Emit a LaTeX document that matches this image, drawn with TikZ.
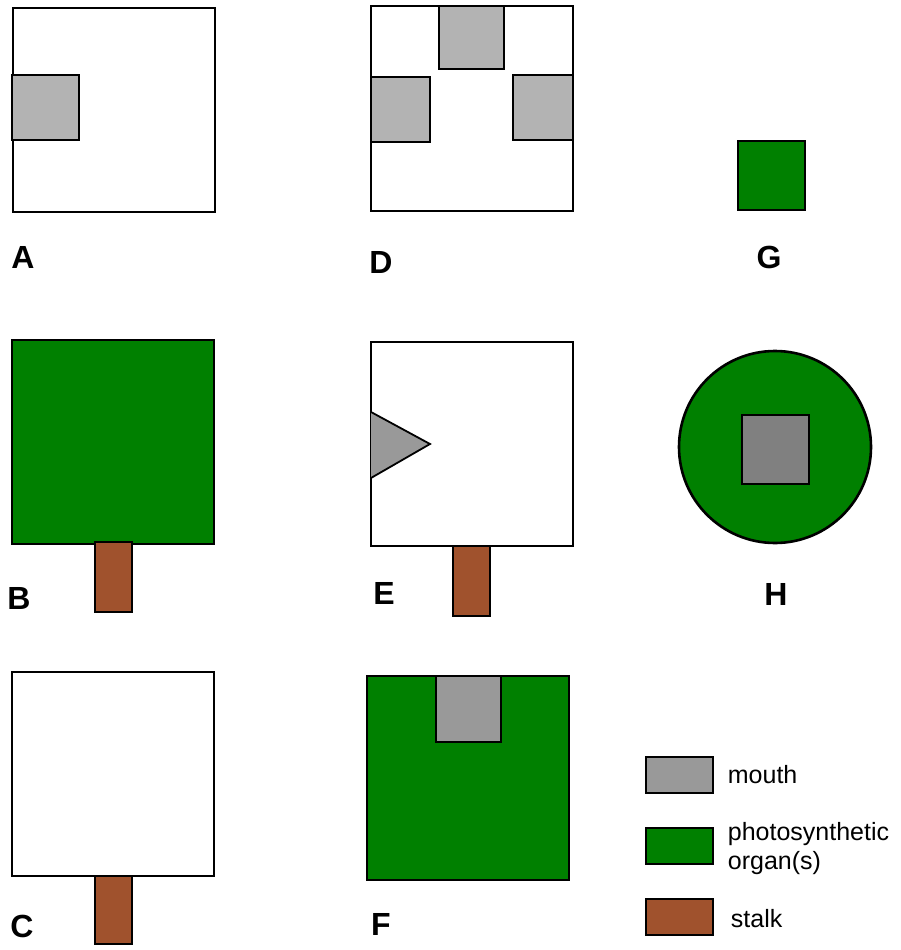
\documentclass[tikz,border=0pt]{standalone}
\usepackage{fontspec}
\setmainfont{Liberation Sans}
\definecolor{organgreen}{HTML}{008000}
\definecolor{stalkbrown}{HTML}{A0522D}
\definecolor{mouthgray}{HTML}{999999}
\definecolor{lightmouth}{HTML}{B3B3B3}
\definecolor{darkmouth}{HTML}{808080}
\begin{document}
\begin{tikzpicture}[x=1pt,y=-1pt,line width=1.8pt,
  body/.style={draw=black, fill=white},
  organ/.style={draw=black, fill=organgreen},
  stalk/.style={draw=black, fill=stalkbrown},
  mouth/.style={draw=black, fill=mouthgray},
  pale/.style={draw=black, fill=lightmouth},
  tag/.style={inner sep=0pt, font=\fontsize{32}{36}\selectfont\bfseries},
  legtext/.style={inner sep=0pt, anchor=base west, align=left, font=\fontsize{25}{29}\selectfont}]
\useasboundingbox (0,0) rectangle (901,950);

\draw[body] (13,8) rectangle (215,212);
\draw[pale] (12,75) rectangle (79,140);
\node[tag] (la) at (23,257) {A};

\draw[organ] (12,340) rectangle (214,544);
\draw[stalk] (95,542) rectangle (132,612);
\node[tag] (lb) at (19,598) {B};

\draw[body] (12,672) rectangle (214,876);
\draw[stalk] (95,876) rectangle (132,944);
\node[tag] (lc) at (22,926) {C};

\draw[body] (371,6) rectangle (573,211);
\draw[pale] (439,6) rectangle (504,69);
\draw[pale] (371,77) rectangle (430,142);
\draw[pale] (513,75) rectangle (573,140);
\node[tag] (ld) at (381,262) {D};

\draw[body] (371,342) rectangle (573,546);
\fill[mouthgray] (371,412) -- (430,444) -- (371,478) -- cycle;
\draw (371,412) -- (430,444) -- (371,478);
\draw[stalk] (453,546) rectangle (490,616);
\node[tag] (le) at (384,593) {E};

\draw[organ] (367,676) rectangle (569,880);
\draw[mouth] (436,676) rectangle (501,742);
\node[tag] (lf) at (381,924) {F};

\draw[organ] (738,141) rectangle (805,210);
\node[tag] (lg) at (769,257) {G};

\draw[organ, line width=2.6pt] (775,447) circle (96pt);
\draw[draw=black, fill=darkmouth] (742,415) rectangle (809,484);
\node[tag] (lh) at (776,594) {H};

\draw[mouth] (646,757) rectangle (713,793);
\node[legtext] (kmouth) at (727,783) {mouth};
\draw[organ] (646,828) rectangle (713,864);
\node[legtext] (korgan) at (727,869) {photosynthetic\\organ(s)};
\draw[stalk] (646,899) rectangle (713,935);
\node[legtext] (kstalk) at (730,927) {stalk};
\end{tikzpicture}
\end{document}
